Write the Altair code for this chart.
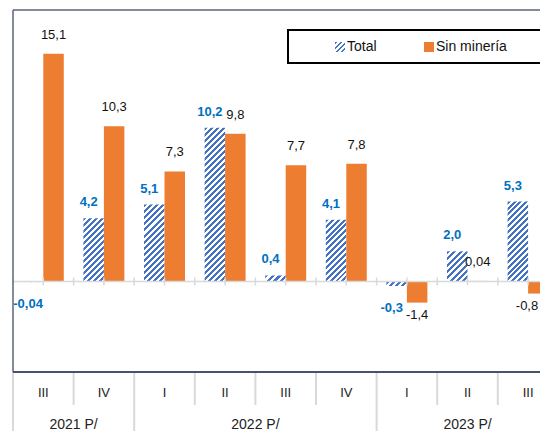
import math
import altair as alt
import pandas as pd

# ---------------- data ----------------
quarters = ["III", "IV", "I", "II", "III", "IV", "I", "II", "III"]
years = ["2021 P/", "2021 P/", "2022 P/", "2022 P/", "2022 P/", "2022 P/",
         "2023 P/", "2023 P/", "2023 P/"]
total = [-0.04, 4.2, 5.1, 10.2, 0.4, 4.1, -0.3, 2.0, 5.3]
sin_mineria = [15.1, 10.3, 7.3, 9.8, 7.7, 7.8, -1.4, 0.04, -0.8]
series_names = ["Total", "Sin minería"]

# ---------------- layout / style ----------------
W, H = 527, 362
CAT_PX = 60.6
XMAX = W / CAT_PX
YMIN, YMAX = -6, 18
PX_PER_UNIT = H / (YMAX - YMIN)
BAR_L, BAR_M, BAR_R = 0.162, 0.5, 0.838

BLUE = "#4472C4"
ORANGE = "#ED7D31"
LABEL_BLUE = "#0070C0"
GRID = "#d9d9d9"
FONT = "Liberation Sans"


def fmt(v):
    s = f"{v:.2f}" if abs(v) < 0.1 else f"{v:.1f}"
    return s.replace(".", ",")


def hatch(w, h, period=4.3):
    w = max(w, 0.5)
    h = max(h, 0.5)
    length = (w + h) / math.sqrt(2)
    n = max(1, round(length / period))
    stops = []
    for k in range(n):
        a, b, c = k / n, (k + 0.5) / n, (k + 1) / n
        stops += [
            alt.GradientStop(color=BLUE, offset=a),
            alt.GradientStop(color=BLUE, offset=b),
            alt.GradientStop(color="white", offset=b),
            alt.GradientStop(color="white", offset=c),
        ]
    d = w * w + h * h
    return alt.LinearGradient(gradient="linear", stops=stops, x1=0, y1=0,
                              x2=w * (w + h) / d, y2=h * (w + h) / d)


df = pd.DataFrame({
    "idx": list(range(len(quarters))),
    "quarter": quarters,
    "year": years,
    "total": total,
    "sin": sin_mineria,
})
df["t0"] = df["idx"] + BAR_L
df["t1"] = df["idx"] + BAR_M
df["s1"] = df["idx"] + BAR_R
df["tc"] = (df["t0"] + df["t1"]) / 2
df["sc"] = (df["t1"] + df["s1"]) / 2
# keep label centres far enough from the right edge that the text stays visible
df["sc_lab"] = df["sc"].clip(upper=XMAX - 13 / CAT_PX)
df["mid"] = df["idx"] + 0.5
df["zero"] = 0.0
df["tlab"] = [fmt(v) for v in total]
df["slab"] = [fmt(v) for v in sin_mineria]

xs = alt.Scale(domain=[0, XMAX], nice=False, zero=False)
ys = alt.Scale(domain=[YMIN, YMAX], nice=False, zero=False)


def X(f):
    return alt.X(f, scale=xs, axis=None)


def Y(f):
    return alt.Y(f, scale=ys, axis=None)


layers = []

# Total bars (hatched) - one layer per bar so hatch density matches its size
bar_w = (BAR_M - BAR_L) * CAT_PX
for i, v in enumerate(total):
    h = abs(v) * PX_PER_UNIT
    layers.append(
        alt.Chart(df).transform_filter(alt.datum.idx == i)
        .mark_rect(fill=hatch(bar_w, h), clip=True)
        .encode(x=X("t0:Q"), x2="t1:Q", y=Y("total:Q"), y2="zero:Q")
    )

# Sin minería bars
layers.append(
    alt.Chart(df).mark_rect(color=ORANGE, clip=True)
    .encode(x=X("s1:Q"), x2="t1:Q", y=Y("sin:Q"), y2="zero:Q")
)

# zero line and ticks
zl = pd.DataFrame({"x0": [0.0], "x1": [XMAX], "y": [0.0]})
layers.append(
    alt.Chart(zl).mark_rule(color=GRID, strokeWidth=1.5)
    .encode(x=X("x0:Q"), x2="x1:Q", y=Y("y:Q"))
)
tick_half = 4 / PX_PER_UNIT
ticks = pd.DataFrame({"x": [k * 0.5 for k in range(2 * len(quarters))]})
ticks["lo"] = -tick_half
ticks["hi"] = tick_half
layers.append(
    alt.Chart(ticks).mark_rule(color=GRID, strokeWidth=1.5, clip=True)
    .encode(x=X("x:Q"), y=Y("lo:Q"), y2="hi:Q")
)

# frame: top, left, bottom axis line
frame = pd.DataFrame({"x0": [0.0], "x1": [XMAX], "ytop": [YMAX], "ybot": [YMIN]})
layers.append(
    alt.Chart(frame).mark_rule(color="#5b6677", strokeWidth=1.5)
    .encode(x=X("x0:Q"), x2="x1:Q", y=Y("ytop:Q"))
)
layers.append(
    alt.Chart(frame).mark_rule(color="#5b6677", strokeWidth=1.5)
    .encode(x=X("x0:Q"), y=Y("ybot:Q"), y2="ytop:Q")
)

# category separators in the axis area
quarter_seps = []
year_seps = [0]
for i in range(1, len(quarters)):
    (year_seps if years[i] != years[i - 1] else quarter_seps).append(i)
qs = pd.DataFrame({"x": quarter_seps})
yse = pd.DataFrame({"x": year_seps})
layers.append(
    alt.Chart(qs).mark_rule(color=GRID, strokeWidth=2)
    .encode(x=X("x:Q"), y=alt.value(H), y2=alt.value(H + 33))
)
layers.append(
    alt.Chart(yse).mark_rule(color=GRID, strokeWidth=2)
    .encode(x=X("x:Q"), y=alt.value(H), y2=alt.value(H + 80))
)
layers.append(
    alt.Chart(frame).mark_rule(color="#44546A", strokeWidth=2)
    .encode(x=X("x0:Q"), x2="x1:Q", y=Y("ybot:Q"))
)

# axis labels
layers.append(
    alt.Chart(df).mark_text(font=FONT, fontSize=13, color="#222222", baseline="middle")
    .encode(x=X("mid:Q"), y=alt.value(H + 21), text="quarter:N")
)
yl = df.groupby("year", as_index=False)["mid"].mean()
layers.append(
    alt.Chart(yl).mark_text(font=FONT, fontSize=14, color="#222222", baseline="middle")
    .encode(x=X("mid:Q"), y=alt.value(H + 53), text="year:N")
)

# value labels
layers.append(
    alt.Chart(df).transform_filter(alt.datum.total >= 0)
    .mark_text(font=FONT, fontSize=13, fontWeight="bold", color=LABEL_BLUE,
               baseline="alphabetic", dy=-12, dx=-5)
    .encode(x=X("tc:Q"), y=Y("total:Q"), text="tlab:N")
)
layers.append(
    alt.Chart(df).transform_filter(alt.datum.total < 0)
    .mark_text(font=FONT, fontSize=13, fontWeight="bold", color=LABEL_BLUE,
               baseline="top", dy=16, dx=-5)
    .encode(x=X("tc:Q"), y=Y("total:Q"), text="tlab:N")
)
layers.append(
    alt.Chart(df).transform_filter(alt.datum.sin >= 0)
    .mark_text(font=FONT, fontSize=13, color="#111111", baseline="alphabetic", dy=-15)
    .encode(x=X("sc_lab:Q"), y=Y("sin:Q"), text="slab:N")
)
layers.append(
    alt.Chart(df).transform_filter(alt.datum.sin < 0)
    .mark_text(font=FONT, fontSize=13, color="#111111", baseline="top", dy=6)
    .encode(x=X("sc_lab:Q"), y=Y("sin:Q"), text="slab:N")
)

# legend (manual box)
one = pd.DataFrame({"a": [0]})
layers.append(
    alt.Chart(one).mark_rect(fill="white", stroke="black", strokeWidth=2)
    .encode(x=alt.value(275), x2=alt.value(560), y=alt.value(20), y2=alt.value(53))
)
layers.append(
    alt.Chart(one).mark_rect(fill=hatch(10, 10, period=4.0))
    .encode(x=alt.value(322), x2=alt.value(332), y=alt.value(32), y2=alt.value(42))
)
layers.append(
    alt.Chart(one).mark_rect(color=ORANGE)
    .encode(x=alt.value(411), x2=alt.value(421), y=alt.value(32), y2=alt.value(42))
)
leg = pd.DataFrame({"name": series_names, "px": [334, 423]})
layers.append(
    alt.Chart(leg).mark_text(font=FONT, fontSize=14, color="#111111",
                             align="left", baseline="middle")
    .encode(x=alt.X("px:Q", scale=None, axis=None), y=alt.value(37), text="name:N")
)

chart = (
    alt.layer(*layers)
    .properties(
        width=W, height=H,
        autosize=alt.AutoSizeParams(type="none"),
        padding={"left": 5, "top": 2, "right": 0, "bottom": 59},
        background="white",
    )
    .configure_view(stroke=None)
)

chart.save("out.html", embed_options={"renderer": "svg", "actions": False})
